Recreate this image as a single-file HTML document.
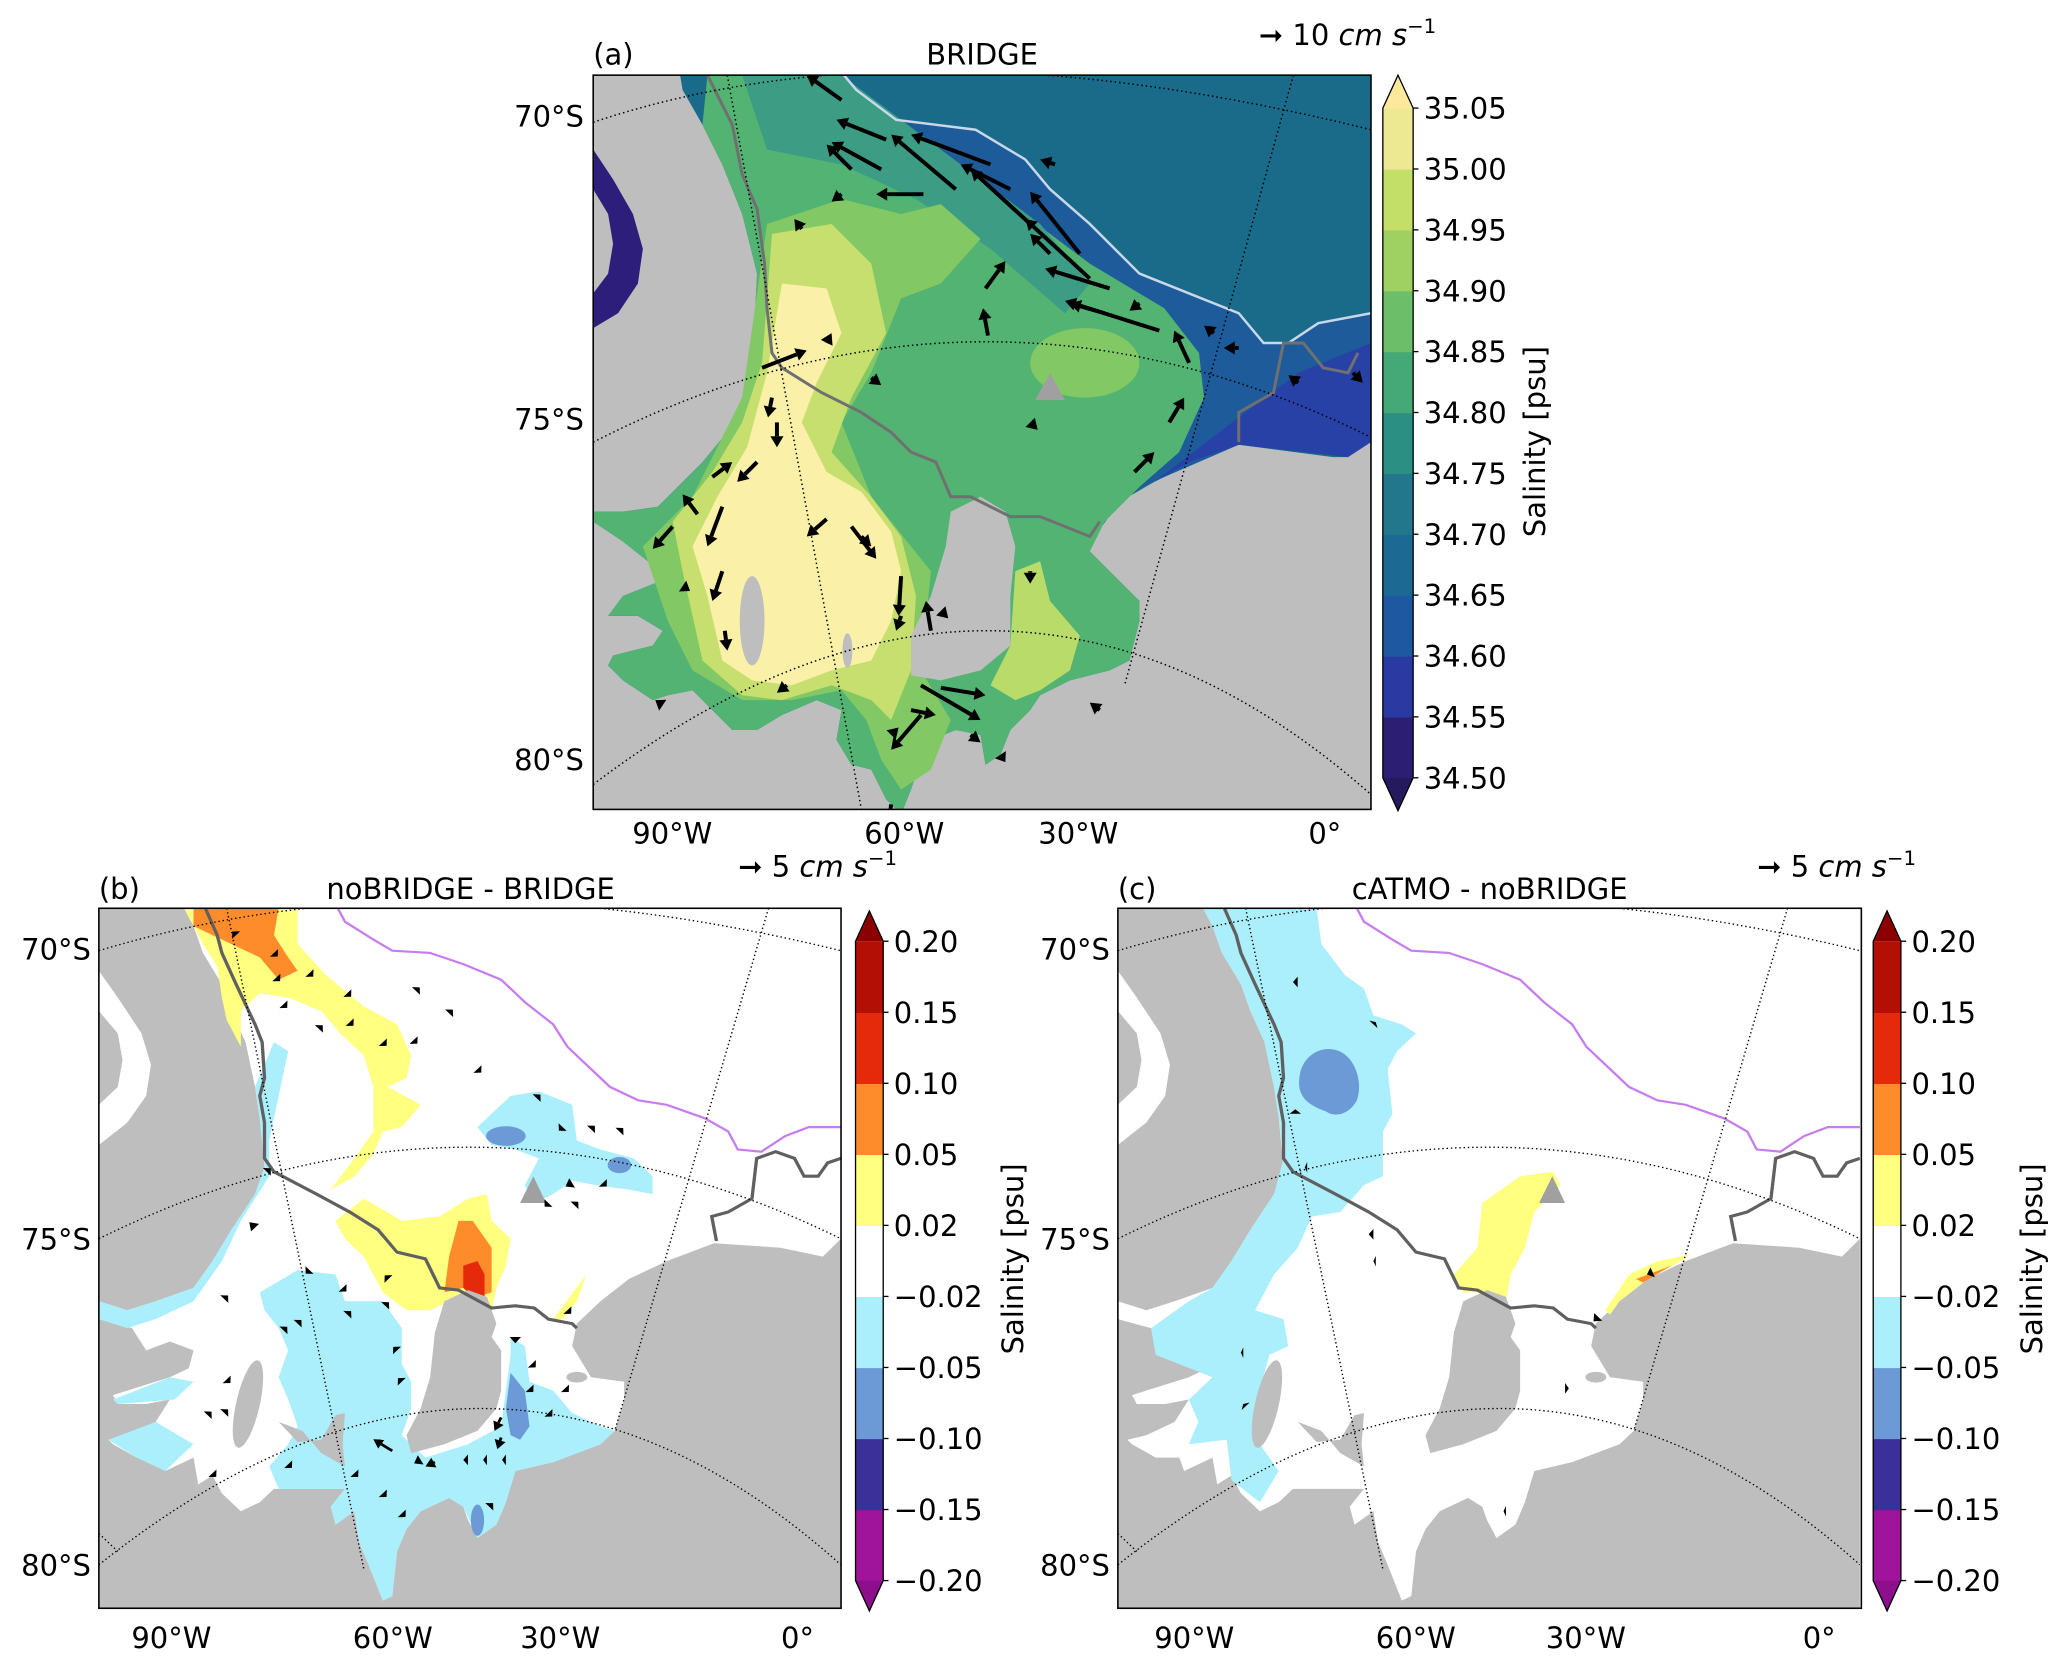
<!DOCTYPE html>
<html><head><meta charset="utf-8"><style>
html,body{margin:0;padding:0;background:#fff}
svg{display:block}
text{font-family:"DejaVu Sans","Liberation Sans",sans-serif;fill:#000}
</style></head><body>
<svg id="fig" width="2067" height="1661" viewBox="0 0 1568 1260" xmlns="http://www.w3.org/2000/svg">
<defs>
<clipPath id="clipA"><rect x="0" y="0" width="1566" height="1480"/></clipPath>
<clipPath id="clipB"><rect x="0" y="0" width="1568" height="1568"/></clipPath>
<g id="geoWet">
<path d="M180,0 L1568,0 L1568,740 L1530,780 L1440,760 L1300,750 L1200,790 L1120,830 L1060,880 L1010,930 L1000,980 L1040,1050 L1110,1060 L1110,1100 L1090,1170 L1060,1200 L960,1240 L880,1260 L860,1330 L840,1380 L800,1410 L780,1370 L770,1340 L740,1320 L680,1350 L650,1390 L630,1440 L620,1540 L600,1550 L570,1470 L550,1420 L540,1350 L500,1380 L490,1340 L520,1300 L440,1300 L370,1300 L340,1330 L300,1350 L260,1310 L240,1270 L210,1290 L200,1230 L140,1260 L130,1230 L80,1230 L30,1200 L20,1190 L60,1180 L120,1150 L150,1100 L100,1110 L40,1110 L30,1090 L90,1070 L150,1050 L190,1030 L200,990 L150,970 L100,990 L70,940 L0,920 L0,880 L60,900 L120,880 L200,850 L240,790 L280,720 L330,640 L350,580 L340,470 L330,400 L310,300 L280,230 L260,170 L220,100 L200,40 Z" fill="#ffffff"/>
<path d="M0,140 L40,200 L90,280 L110,350 L100,420 L60,480 L0,530 L0,440 L40,400 L50,340 L40,280 L0,230 Z" fill="#ffffff"/>
</g>
<g id="geoLand">
<path d="M730,880 L780,855 L820,870 L840,930 L830,960 L850,990 L850,1080 L840,1120 L800,1170 L730,1200 L660,1220 L650,1180 L680,1120 L700,1050 L710,950 Z" fill="#bebebe"/>
<ellipse cx="315" cy="1110" rx="25" ry="100" transform="rotate(12 315 1110)" fill="#bebebe"/>
<path d="M380,1150 L430,1170 L470,1220 L520,1250 L515,1200 L520,1130 L500,1135 L470,1190 L420,1195 Z" fill="#bebebe"/>
<ellipse cx="1010" cy="1050" rx="22" ry="12" fill="#bebebe"/>
</g>
<g id="geoLines">
<path d="M505,0 L520,30 L580,70 L620,95 L700,100 L770,125 L850,160 L900,210 L960,260 L990,310 L1040,360 L1080,400 L1140,430 L1200,440 L1280,470 L1330,500 L1350,540 L1400,545 L1450,510 L1500,490 L1568,490" fill="none" stroke="#c77ded" stroke-width="5"/>
<path d="M225,0 L250,60 L260,100 L290,170 L330,260 L345,300 L350,380 L340,420 L350,480 L350,560 L370,590 L460,640 L530,680 L590,720 L630,770 L690,785 L720,850 L760,855 L830,895 L880,890 L920,895 L950,920 L1000,930 L1010,940" fill="none" stroke="#606060" stroke-width="7"/>
<path d="M1305,745 L1295,690 L1330,680 L1380,650 L1390,560 L1430,545 L1470,560 L1490,600 L1520,600 L1540,570 L1568,560" fill="none" stroke="#606060" stroke-width="7"/>
<polygon points="890,660 918,600 945,660" fill="#a0a0a0"/>
</g>
<g id="grid" fill="none" stroke="#000" stroke-width="3" stroke-dasharray="3 6">
<path d="M0,95 Q700,-130 1568,95"/>
<path d="M0,740 Q780,330 1568,740"/>
<path d="M0,1470 Q830,770 1568,1470"/>
<path d="M270,0 L560,1480"/>
<path d="M1415,0 L1090,1170"/>
<path d="M0,1400 L40,1440"/>
</g>
</defs>

<!-- PANEL A -->
<g>
<g transform="translate(450,57) scale(0.3767,0.3763)" clip-path="url(#clipA)">
<rect x="0" y="0" width="1566" height="1480" fill="#bebebe"/>
<path d="M175,0 L1566,0 L1566,730 L1520,770 L1490,770 L1300,745 L1230,770 L1130,820 L1060,860 L1010,930 L1000,960 L1040,1000 L1100,1060 L1100,1100 L1080,1180 L1040,1200 L960,1220 L900,1250 L880,1280 L840,1320 L820,1370 L790,1390 L780,1330 L730,1320 L680,1340 L660,1380 L640,1440 L620,1490 L590,1460 L560,1400 L520,1390 L490,1340 L500,1280 L450,1260 L380,1290 L330,1320 L280,1320 L240,1280 L200,1240 L150,1250 L120,1260 L60,1220 L30,1190 L40,1170 L120,1150 L140,1120 L90,1090 L30,1090 L60,1050 L160,1010 L110,980 L60,940 L0,900 L0,880 L60,880 L130,870 L220,780 L270,720 L300,650 L320,600 L330,400 L300,280 L260,180 L220,100 L180,30 Z" fill="#1a6a8a"/>
<path d="M505,0 L530,30 L610,90 L770,110 L870,170 L920,230 L1000,300 L1100,400 L1200,440 L1300,480 L1350,540 L1400,540 L1460,500 L1566,480 L1566,740 L1300,745 L1150,810 L1100,830 L1000,700 L800,400 L500,150 L400,0 Z" fill="#1d5b9b"/>
<path d="M1300,690 L1420,600 L1566,540 L1566,740 L1520,770 L1300,745 L1200,780 L1130,820 Z" fill="#2841a6"/>
<path d="M0,150 L40,210 L80,280 L100,350 L90,420 L50,480 L0,510 L0,440 L30,400 L40,340 L30,280 L0,230 Z" fill="#2c1e7a"/>
<path d="M230,0 L430,0 L600,100 L800,230 L1000,380 L1150,470 L1220,560 L1230,650 L1180,760 L1100,830 L1030,900 L1000,960 L1040,1000 L1100,1060 L1100,1100 L1080,1180 L1040,1200 L960,1220 L900,1250 L880,1280 L840,1320 L820,1370 L790,1390 L780,1330 L730,1320 L680,1340 L660,1380 L640,1440 L620,1490 L590,1460 L560,1400 L520,1390 L490,1340 L500,1280 L450,1260 L380,1290 L330,1320 L280,1320 L240,1280 L200,1240 L150,1250 L120,1260 L60,1220 L30,1190 L40,1170 L120,1150 L140,1120 L90,1090 L30,1090 L60,1050 L160,1010 L110,980 L60,940 L0,900 L0,880 L60,880 L130,870 L220,780 L270,720 L300,650 L320,600 L330,400 L300,280 L260,180 L220,100 Z" fill="#52b373"/>
<path d="M300,0 L500,0 L700,150 L900,300 L1000,420 L950,480 L800,350 L650,250 L500,180 L350,150 Z" fill="#3c9c84"/>
<path d="M340,1000 L420,1020 L480,1080 L500,1150 L430,1160 L370,1120 L340,1060 Z" fill="#2f7f8a"/>
<path d="M350,300 L500,250 L620,280 L700,260 L780,330 L700,420 L620,450 L560,600 L500,700 L560,850 L640,950 L680,1000 L660,1200 L720,1300 L680,1400 L620,1440 L580,1380 L550,1300 L500,1240 L400,1260 L300,1260 L200,1200 L150,1100 L100,950 L200,850 L300,650 Z" fill="#82c864"/>
<ellipse cx="990" cy="580" rx="110" ry="70" fill="#82c864"/>
<path d="M850,1000 L900,980 L920,1060 L980,1130 L960,1200 L900,1240 L850,1260 L800,1230 L840,1150 Z" fill="#b8db6a"/>
<path d="M360,320 L480,300 L560,380 L590,520 L520,650 L480,760 L560,850 L620,930 L650,1050 L640,1200 L600,1300 L560,1260 L480,1230 L380,1260 L300,1250 L220,1180 L180,1000 L160,900 L240,800 L300,700 L340,580 Z" fill="#c6df6e"/>
<path d="M380,420 L470,430 L500,520 L450,620 L420,700 L470,800 L540,840 L600,920 L620,1000 L600,1100 L560,1180 L480,1200 L400,1230 L320,1220 L260,1180 L230,1050 L200,950 L250,850 L310,750 L350,600 Z" fill="#fbf0a8"/>
<path d="M720,880 L780,850 L830,880 L850,950 L840,1050 L840,1150 L780,1200 L700,1220 L640,1210 L640,1130 L680,1050 L710,950 Z" fill="#bebebe"/>
<ellipse cx="320" cy="1100" rx="25" ry="90" fill="#bebebe"/>
<ellipse cx="512" cy="1160" rx="10" ry="35" fill="#bebebe"/>
<path d="M505,0 L530,30 L610,90 L770,110 L870,170 L920,230 L1000,300 L1100,400 L1200,440 L1300,480 L1350,540 L1400,540 L1460,500 L1566,480" fill="none" stroke="#c8d8e8" stroke-width="5"/>
<path d="M230,0 L260,60 L280,100 L300,200 L330,270 L345,380 L350,470 L360,560 L380,590 L460,640 L540,680 L600,720 L640,760 L690,780 L720,850 L760,850 L840,890 L900,890 L1000,930 L1020,900" fill="none" stroke="#707070" stroke-width="6"/>
<path d="M1300,740 L1300,680 L1370,640 L1390,540 L1430,540 L1470,590 L1520,600 L1540,560" fill="none" stroke="#707070" stroke-width="6"/>
<polygon points="890,655 920,600 950,655" fill="#a0a0a0"/>
<g fill="none" stroke="#000" stroke-width="3" stroke-dasharray="3 6">
<path d="M0,95 Q640,-120 1566,110"/>
<path d="M0,740 Q780,340 1566,730"/>
<path d="M0,1430 Q830,800 1566,1450"/>
<path d="M270,0 L540,1480"/>
<path d="M1410,0 L1070,1230"/>
</g>
<g id="arrowsA"></g>
</g>
<rect x="450" y="57" width="590" height="557" fill="none" stroke="#000" stroke-width="1.2"/>
<text x="450" y="49" font-size="22">(a)</text>
<text x="745" y="49" font-size="22" text-anchor="middle">BRIDGE</text>
<text x="955" y="34" font-size="22">➞ 10 <tspan font-style="italic">cm s</tspan><tspan font-size="15" dy="-9">−1</tspan></text>
<g font-size="22">
<text x="443" y="96" text-anchor="end">70°S</text>
<text x="443" y="326" text-anchor="end">75°S</text>
<text x="443" y="584" text-anchor="end">80°S</text>
<text x="510" y="640" text-anchor="middle">90°W</text>
<text x="686" y="640" text-anchor="middle">60°W</text>
<text x="818" y="640" text-anchor="middle">30°W</text>
<text x="1005" y="640" text-anchor="middle">0°</text>
</g>
<g id="cbA"></g>
<text transform="translate(1172,335) rotate(-90)" font-size="22" text-anchor="middle">Salinity [psu]</text>
</g>

<!-- PANEL B -->
<g>
<g transform="translate(75,689) scale(0.359,0.3388)" clip-path="url(#clipB)">
<rect x="0" y="0" width="1568" height="1568" fill="#bebebe"/>
<use href="#geoWet"/>
<path d="M180,0 L200,0 L200,40 L240,60 L300,90 L340,110 L380,160 L420,140 L400,110 L370,60 L380,0 L420,0 L420,80 L480,150 L560,220 L630,260 L660,330 L650,380 L610,400 L680,440 L640,490 L600,500 L580,550 L540,600 L490,630 L540,560 L580,500 L580,400 L560,330 L510,280 L470,230 L400,200 L340,190 L300,230 L300,310 L270,250 L260,200 L250,130 L220,80 Z" fill="#ffff80"/>
<path d="M200,0 L380,0 L370,60 L400,110 L420,140 L380,160 L340,110 L300,90 L240,60 L200,40 Z" fill="#ff8c2a"/>
<path d="M500,700 L560,650 L640,700 L720,690 L780,650 L820,640 L830,700 L870,740 L860,800 L840,850 L830,900 L790,870 L740,880 L700,900 L650,900 L600,860 L560,780 L520,740 Z" fill="#ffff80"/>
<path d="M760,700 L790,700 L830,760 L830,860 L800,870 L770,850 L730,860 L740,780 Z" fill="#ff8c2a"/>
<path d="M770,800 L800,790 L815,820 L815,870 L790,870 L770,850 Z" fill="#e52a0c"/>
<path d="M960,920 L1030,820 L1010,880 L980,920 Z" fill="#ffff80"/>
<path d="M800,490 L870,420 L930,410 L1000,440 L1010,520 L1060,540 L1130,560 L1170,600 L1170,640 L1120,630 L1050,620 L1000,610 L960,640 L920,660 L900,620 L930,560 L880,540 L830,530 Z" fill="#aaeffb"/>
<ellipse cx="860" cy="510" rx="42" ry="22" fill="#6b9ad6"/>
<ellipse cx="1100" cy="575" rx="25" ry="18" fill="#6b9ad6"/>
<path d="M340,860 L420,810 L500,820 L520,880 L600,880 L640,940 L640,1020 L660,1060 L660,1120 L640,1180 L690,1230 L780,1200 L850,1160 L870,1000 L870,960 L900,980 L910,1060 L960,1080 L1000,1130 L1060,1160 L1090,1170 L1060,1200 L960,1240 L880,1260 L860,1330 L840,1380 L800,1410 L770,1340 L740,1320 L680,1350 L650,1390 L630,1440 L620,1540 L600,1550 L570,1470 L550,1420 L540,1350 L500,1380 L490,1340 L520,1300 L440,1300 L380,1300 L360,1250 L400,1200 L420,1160 L400,1100 L380,1050 L400,990 L380,940 L350,900 Z" fill="#aaeffb"/>
<path d="M0,880 L60,900 L120,880 L200,850 L240,790 L280,720 L330,640 L350,580 L340,470 L330,400 L370,300 L400,320 L380,420 L360,520 L360,600 L300,700 L260,790 L200,880 L120,920 L60,940 L0,920 Z" fill="#aaeffb"/>
<path d="M30,1100 L150,1050 L200,1060 L160,1100 L40,1110 Z" fill="#aaeffb"/>
<path d="M20,1190 L120,1150 L200,1200 L140,1260 L80,1230 Z" fill="#aaeffb"/>
<path d="M870,1040 L900,1080 L910,1160 L890,1190 L870,1180 L860,1120 Z" fill="#6b9ad6"/>
<ellipse cx="800" cy="1370" rx="14" ry="35" fill="#6b9ad6"/>
<use href="#geoLand"/>
<use href="#geoLines"/>
<use href="#grid"/>
<g id="arrowsB"></g>
</g>
<rect x="75" y="689" width="563" height="531" fill="none" stroke="#000" stroke-width="1.2"/>
<text x="75" y="682" font-size="22">(b)</text>
<text x="357" y="682" font-size="22" text-anchor="middle">noBRIDGE - BRIDGE</text>
<text x="560" y="665" font-size="22">➞ 5 <tspan font-style="italic">cm s</tspan><tspan font-size="15" dy="-9">−1</tspan></text>
<g font-size="22">
<text x="69" y="728" text-anchor="end">70°S</text>
<text x="69" y="948" text-anchor="end">75°S</text>
<text x="69" y="1195" text-anchor="end">80°S</text>
<text x="130" y="1250" text-anchor="middle">90°W</text>
<text x="298" y="1250" text-anchor="middle">60°W</text>
<text x="425" y="1250" text-anchor="middle">30°W</text>
<text x="605" y="1250" text-anchor="middle">0°</text>
</g>
<g id="cbB"></g>
<text transform="translate(776,955) rotate(-90)" font-size="22" text-anchor="middle">Salinity [psu]</text>
</g>

<!-- PANEL C -->
<g>
<g transform="translate(848,689) scale(0.359,0.3388)" clip-path="url(#clipB)">
<rect x="0" y="0" width="1568" height="1568" fill="#bebebe"/>
<use href="#geoWet"/>
<path d="M180,0 L420,0 L430,80 L480,150 L520,180 L540,240 L600,260 L630,280 L590,320 L570,360 L580,460 L560,500 L560,600 L520,620 L470,680 L410,690 L380,760 L330,820 L290,900 L350,920 L360,980 L320,1000 L300,1080 L300,1200 L340,1260 L300,1330 L240,1280 L230,1190 L150,1200 L170,1150 L150,1100 L200,1050 L80,1000 L70,940 L150,880 L200,850 L240,790 L280,720 L330,640 L350,560 L340,470 L330,400 L310,300 L280,230 L260,170 L220,100 L200,40 Z" fill="#aaeffb"/>
<path d="M445,315 C500,315 520,390 505,430 C490,460 460,470 440,455 C400,440 375,420 385,370 C390,340 415,315 445,315 Z" fill="#6b9ad6"/>
<path d="M770,660 L850,600 L920,590 L935,620 L880,680 L860,760 L830,820 L820,880 L780,860 L730,860 L710,820 L760,760 Z" fill="#ffff80"/>
<path d="M1030,900 L1080,820 L1140,790 L1210,775 L1190,790 L1120,830 L1060,880 L1040,910 Z" fill="#ffff80"/>
<path d="M1095,830 L1170,800 L1110,838 Z" fill="#ff8c2a"/>
<use href="#geoLand"/>
<use href="#geoLines"/>
<use href="#grid"/>
<g id="arrowsC"></g>
</g>
<rect x="848" y="689" width="564" height="531" fill="none" stroke="#000" stroke-width="1.2"/>
<text x="848" y="682" font-size="22">(c)</text>
<text x="1130" y="682" font-size="22" text-anchor="middle">cATMO - noBRIDGE</text>
<text x="1333" y="665" font-size="22">➞ 5 <tspan font-style="italic">cm s</tspan><tspan font-size="15" dy="-9">−1</tspan></text>
<g font-size="22">
<text x="842" y="728" text-anchor="end">70°S</text>
<text x="842" y="948" text-anchor="end">75°S</text>
<text x="842" y="1195" text-anchor="end">80°S</text>
<text x="906" y="1250" text-anchor="middle">90°W</text>
<text x="1074" y="1250" text-anchor="middle">60°W</text>
<text x="1203" y="1250" text-anchor="middle">30°W</text>
<text x="1380" y="1250" text-anchor="middle">0°</text>
</g>
<g id="cbC"></g>
<text transform="translate(1549,955) rotate(-90)" font-size="22" text-anchor="middle">Salinity [psu]</text>
</g>
</svg>
<script>
const NS = "http://www.w3.org/2000/svg";
// Colorbar data
const levelsA = ["34.50","34.55","34.60","34.65","34.70","34.75","34.80","34.85","34.90","34.95","35.00","35.05"];
const colorsA = ["#2c1e72","#2a3aa2","#1e58a0","#1c6a94","#22778c","#2c8f84","#45a877","#6cbf68","#9fd062","#c4df68","#ede892"];
const extA = ["#251a5e","#fde99c"];
const levelsD = ["\u22120.20","\u22120.15","\u22120.10","\u22120.05","\u22120.02","0.02","0.05","0.10","0.15","0.20"];
const colorsD = ["#a0149c","#3b2f9a","#6b9ad6","#aaeffb","#ffffff","#ffff80","#ff8c2a","#e52a0c","#b30f05"];
const extD = ["#8e0f8e","#8b0000"];
// Vector data (map frame units): tail x, tail y, dx, dy
const arrAx = [500,590,580,730,665,800,840,880,980,1000,1040,1140,1030,1200,920,520,340,360,370,240,330,260,210,160,260,265,520,470,620,620,795,790,1090,1160,680,660,700,660,640,600,470,880,1250,1300,1420,1530,1100,930,500,560,420,180,140,600,760,1020,880,390,700,540,820];
const arrAy = [50,130,190,230,240,180,230,300,360,410,430,515,480,580,360,190,590,650,700,810,780,870,885,910,1000,1120,910,895,1010,1090,525,430,800,700,1120,1230,1235,1290,1280,1470,540,1000,520,550,620,600,460,180,240,610,310,1030,1270,1330,1330,1280,700,1230,1080,930,1370];
const arrAu = [-70,-100,-100,-130,-95,-160,-100,-120,-100,-130,-130,-190,-70,-30,-40,-50,90,-8,0,40,-40,-30,-30,-40,-20,5,50,-40,-5,-10,-10,40,40,30,-10,120,90,-60,50,-5,10,0,-20,-30,-20,20,-20,-30,-20,20,-15,15,-15,15,20,-20,15,-20,15,20,10];
const arrAy2 = [-50,-40,-55,-110,0,-60,-50,-110,-125,-120,-40,-60,-20,-65,-40,-50,-35,40,50,-30,40,80,-40,45,60,40,65,35,80,30,-55,-55,-40,-50,-60,70,15,70,10,40,-20,25,-15,0,-15,20,15,-10,15,15,-20,10,-10,-15,15,-15,15,15,15,20,15];
const arrBx = [290,370,375,445,525,530,600,390,465,670,740,665,800,980,1040,1100,1000,1065,925,950,1005,355,330,390,265,445,525,605,612,630,640,270,230,265,420,515,880,915,910,985,950,620,680,710,780,820,860,850,850,825,540,400,240,640,600,990];
const arrBy = [60,100,155,145,190,255,300,215,270,185,235,295,360,490,495,500,615,615,425,660,665,590,715,945,875,810,910,890,830,990,1060,1055,1135,1130,930,850,960,1020,1075,1075,1130,1215,1235,1240,1235,1235,1235,1140,1185,1340,1265,1245,1265,1355,1310,900];
const arrBu = [-8,8,8,8,8,8,8,8,8,8,8,8,8,-8,8,8,-14,8,8,-8,8,8,-12,8,8,-8,8,8,-8,-8,-8,8,8,8,8,8,0,8,8,8,8,-40,-14,-20,-10,-8,-8,-14,-8,8,8,8,8,8,8,8];
const arrBv = [-8,8,8,8,8,8,8,8,-8,-8,-8,8,8,8,-8,-8,8,8,-8,8,-8,-8,-12,-8,-8,8,-8,-8,-8,-8,-8,8,-8,-8,-8,8,14,8,8,8,8,-26,8,10,0,0,0,30,26,-8,8,8,8,8,8,8];
const arrCx = [380,375,540,400,540,545,1130,1015,945,270,265,820];
const arrCy = [165,460,260,580,730,790,815,915,1075,1115,995,1350];
const arrCu = [-10,0,5,-5,-10,-5,-12,-10,8,-5,-5,-5];
const arrCv = [0,-10,-5,0,0,0,5,10,0,-5,0,0];

function arrow(parent, x, y, dx, dy, w, hs) {
  const len = Math.hypot(dx, dy) || 1;
  const ux = dx / len, uy = dy / len;
  const g = document.createElementNS(NS, "g");
  
  
  const bx = x + dx - ux * hs, by = y + dy - uy * hs;
  if (len > hs) {
    const l = document.createElementNS(NS, "line");
    l.setAttribute("x1", x); l.setAttribute("y1", y);
    l.setAttribute("x2", bx); l.setAttribute("y2", by);
    l.setAttribute("stroke", "#000"); l.setAttribute("stroke-width", w);
    g.appendChild(l);
  }
  const px = -uy, py = ux, hw = hs * 0.6;
  const tx = x + dx, ty = y + dy;
  const sx = len > hs ? bx : x, sy = len > hs ? by : y;
  const p = document.createElementNS(NS, "polygon");
  p.setAttribute("points", `${tx},${ty} ${sx + px * hw},${sy + py * hw} ${sx - px * hw},${sy - py * hw}`);
  p.setAttribute("fill", "#000");
  g.appendChild(p);
  parent.appendChild(g);
}
function drawArrows(id, xs, ys, us, vs, w, hs) {
  const parent = document.getElementById(id);
  for (let i = 0; i < xs.length; i++) arrow(parent, xs[i], ys[i], us[i], vs[i], w, hs);
}
drawArrows("arrowsA", arrAx, arrAy, arrAu, arrAy2, 8, 22);
drawArrows("arrowsB", arrBx, arrBy, arrBu, arrBv, 6, 20);
drawArrows("arrowsC", arrCx, arrCy, arrCu, arrCv, 6, 20);

function colorbar(id, x, w, yTop, yBot, levels, colors, ext, tri) {
  const g = document.getElementById(id);
  const n = colors.length;
  const step = (yBot - yTop) / n;
  for (let i = 0; i < n; i++) {
    const r = document.createElementNS(NS, "rect");
    
    
    r.setAttribute("x", x); r.setAttribute("y", yBot - (i + 1) * step);
    r.setAttribute("width", w); r.setAttribute("height", step + 0.5);
    r.setAttribute("fill", colors[i]);
    g.appendChild(r);
  }
  const cx = x + w / 2;
  const bt = document.createElementNS(NS, "polygon");
  
  
  bt.setAttribute("points", `${x},${yBot} ${x + w},${yBot} ${cx},${yBot + tri}`);
  bt.setAttribute("fill", ext[0]);
  g.appendChild(bt);
  const tt = document.createElementNS(NS, "polygon");
  
  
  tt.setAttribute("points", `${x},${yTop} ${x + w},${yTop} ${cx},${yTop - tri}`);
  tt.setAttribute("fill", ext[1]);
  g.appendChild(tt);
  const out = document.createElementNS(NS, "polygon");
  
  
  out.setAttribute("points", `${x},${yTop} ${cx},${yTop - tri} ${x + w},${yTop} ${x + w},${yBot} ${cx},${yBot + tri} ${x},${yBot}`);
  out.setAttribute("fill", "none"); out.setAttribute("stroke", "#000"); out.setAttribute("stroke-width", "1");
  g.appendChild(out);
  for (let i = 0; i < levels.length; i++) {
    const y = yBot - i * step;
    const tk = document.createElementNS(NS, "line");
    
    
    tk.setAttribute("x1", x + w); tk.setAttribute("x2", x + w + 4);
    tk.setAttribute("y1", y); tk.setAttribute("y2", y);
    tk.setAttribute("stroke", "#000");
    g.appendChild(tk);
    const t = document.createElementNS(NS, "text");
    
    
    t.setAttribute("x", x + w + 8); t.setAttribute("y", y + 8);
    t.setAttribute("font-size", "22");
    t.textContent = levels[i];
    g.appendChild(t);
  }
}
colorbar("cbA", 1049, 23, 82, 590, levelsA, colorsA, extA, 25);
colorbar("cbB", 649, 21, 714, 1199, levelsD, colorsD, extD, 23);
colorbar("cbC", 1421, 21, 714, 1199, levelsD, colorsD, extD, 23);
</script>
</body></html>
